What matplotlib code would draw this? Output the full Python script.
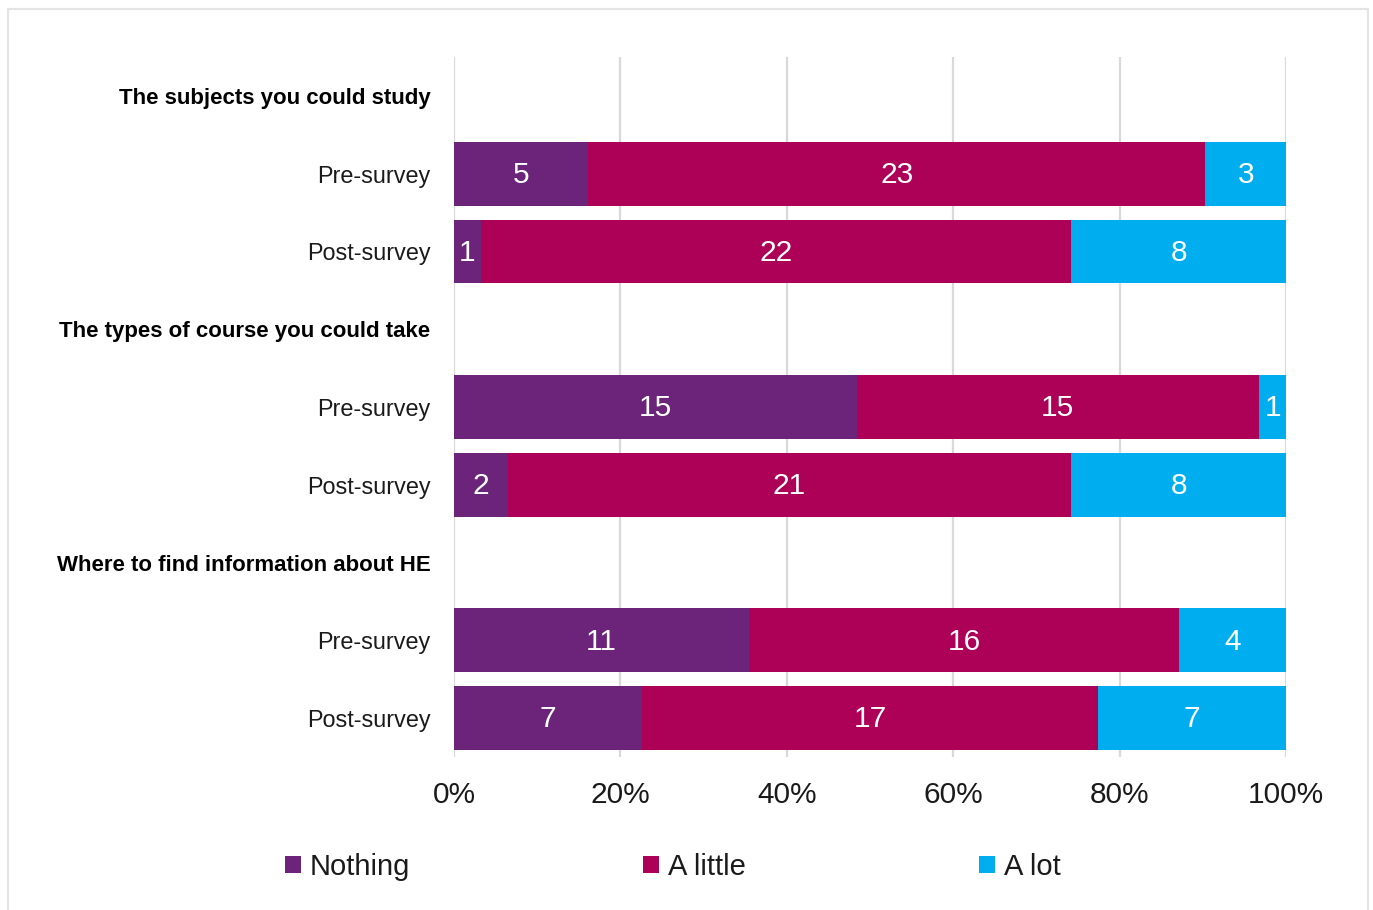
import matplotlib
matplotlib.use("Agg")
import matplotlib.pyplot as plt
from matplotlib.patches import Rectangle, Patch
import numpy as np

plt.rcParams['font.family'] = ['Liberation Sans', 'DejaVu Sans']

# Survey data: counts of responses per knowledge level
topics = ["The subjects you could study",
          "The types of course you could take",
          "Where to find information about HE"]
rounds = ["Pre-survey", "Post-survey"]
levels = ["Nothing", "A little", "A lot"]

nothing = [5, 1, 15, 2, 11, 7]
a_little = [23, 22, 15, 21, 16, 17]
a_lot = [3, 8, 1, 8, 4, 7]

colors = ["#6B2479", "#AD0057", "#00AEEF"]

fig = plt.figure(figsize=(13.73, 9.10), dpi=100)
ax = fig.add_axes([454 / 1373, 1 - 757 / 910, (1286 - 454) / 1373, (757 - 57) / 910])

# Build row layout: a header row per topic, followed by pre/post bars
labels, bold, bar_rows = [], [], []
row = 0
for t in topics:
    labels.append(t)
    bold.append(True)
    row += 1
    for r in rounds:
        labels.append(r)
        bold.append(False)
        bar_rows.append(row)
        row += 1

counts = np.array([nothing, a_little, a_lot], dtype=float)
totals = counts.sum(axis=0)
shares = counts / totals * 100

left = np.zeros(len(bar_rows))
for i, lvl in enumerate(levels):
    ax.barh(bar_rows, shares[i], left=left, height=0.82, color=colors[i],
            label=lvl, zorder=3)
    for y, l, w, c in zip(bar_rows, left, shares[i], counts[i]):
        if c > 0:
            ax.text(l + w / 2, y + 0.015, f"{int(c)}", ha="center", va="center",
                    color="white", fontsize=21.5, zorder=4)
    left += shares[i]

ax.set_xlim(0, 100)
ax.set_ylim(len(labels) - 0.5, -0.5)
ax.set_xticks(np.arange(0, 101, 20))
ax.set_xticklabels([f"{v}%" for v in range(0, 101, 20)], fontsize=21.5,
                   color="#1a1a1a")
ax.set_yticks(range(len(labels)))
ax.set_yticklabels(labels, fontsize=16.8, color="#1a1a1a")
for tl, b in zip(ax.get_yticklabels(), bold):
    if b:
        tl.set_fontweight("bold")
        tl.set_fontsize(16)
        tl.set_color("black")

ax.tick_params(axis="both", length=0)
ax.tick_params(axis="y", pad=17)
ax.tick_params(axis="x", pad=17)
ax.grid(axis="x", color="#d9d9d9", linewidth=1.6, zorder=0)
ax.set_axisbelow(True)
for s in ax.spines.values():
    s.set_visible(False)

handles = [Patch(facecolor=c, label=l) for c, l in zip(colors, levels)]
leg = fig.legend(handles=handles, loc="center", ncol=3,
                 bbox_to_anchor=(0.49, 1 - 867 / 910), frameon=False,
                 handlelength=0.55, handleheight=0.55, handletextpad=0.3,
                 columnspacing=8.0, prop={"size": 21})
for t in leg.get_texts():
    t.set_color("#1a1a1a")

# Light frame around the whole chart
fig.patches.append(Rectangle((8 / 1373, -0.05), 1360 / 1373, 1.05 - 9 / 910,
                             transform=fig.transFigure, fill=False,
                             edgecolor="#e4e4e4", linewidth=1.5))

fig.savefig("out.png", dpi=100)
